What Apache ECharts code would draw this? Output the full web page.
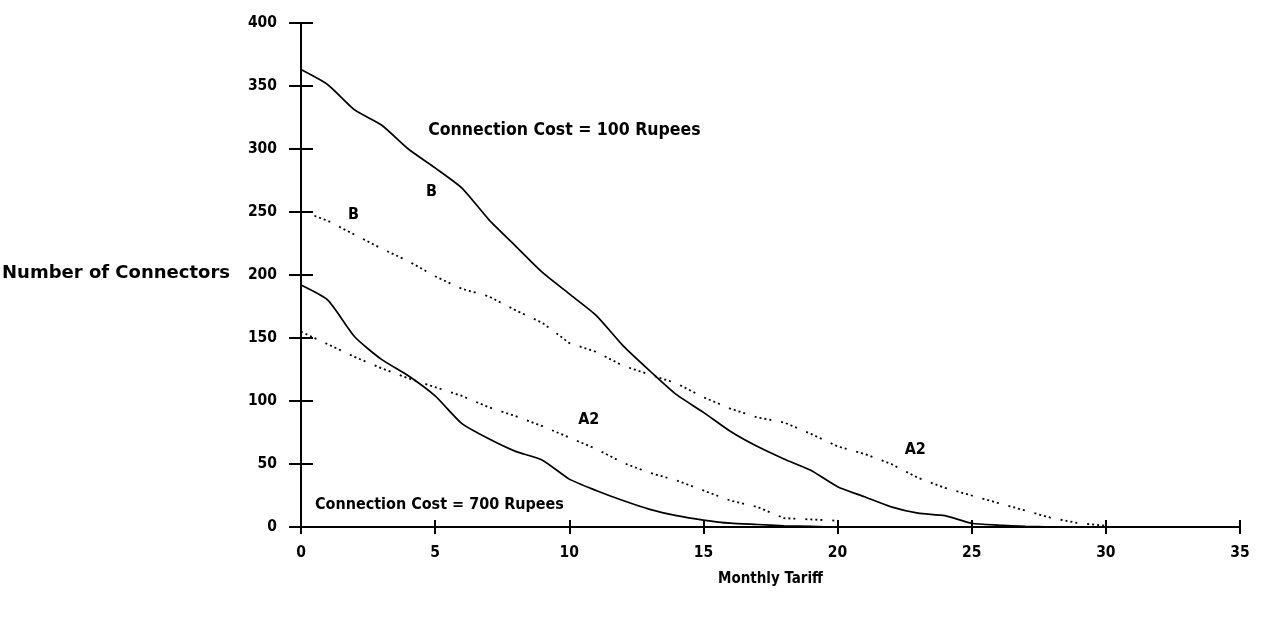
<!DOCTYPE html>
<html>
<head>
<meta charset="utf-8">
<script src="https://cdn.jsdelivr.net/npm/echarts@6/dist/echarts.min.js"></script>
<style>
  html, body { margin: 0; padding: 0; background: #fff; }
  #chart { width: 1267px; height: 623px; }
</style>
</head>
<body>
<div id="chart"></div>
<script>
// Monthly tariff (x) for the solid "B" curves
const tariffB = [0, 1, 2, 3, 4, 5, 6, 7, 8, 9, 10, 11, 12, 13, 14, 15, 16, 17, 18, 19, 20,
                 21, 22, 23, 24, 25, 26, 27, 28, 29, 30, 31, 32];
// Connectors, connection cost 100 rupees, curve B
const cost100B = [363, 351, 331, 319, 300, 285, 269, 244, 223, 202, 185, 168, 144, 124, 105, 91, 76, 64, 54, 45, 32,
                  24, 16, 11, 9, 3, 1.5, 0.5, 0, null, null, null, null];
// Connectors, connection cost 700 rupees, curve B
const cost700B = [192, 180, 151, 133, 120, 104, 82, 70, 60, 53, 38, 29, 21, 14, 9, 5.5, 3, 2, 1, 0.5, 0,
                  0, 0, 0, 0, 0, 0, 0, 0, 0, 0, 0, 0];

// Monthly tariff (x) and connectors for the dotted "A2" curves
const tariffA2_100 = [0.5, 1, 2, 3, 4, 5, 6, 7, 8, 9, 10, 11, 12, 13, 14, 15, 16, 17, 18, 19, 20,
                      21, 22, 23, 24, 25, 26, 27, 28, 29, 30];
const cost100A2 = [247, 243, 232, 221, 211, 199, 189, 183, 172, 162, 146, 139, 128, 121, 114, 103, 94, 87, 83, 74, 64,
                   58, 50, 39, 31, 25, 19, 13, 7, 3, 1];
const tariffA2_700 = [0, 1, 2, 3, 4, 5, 6, 7, 8, 9, 10, 11, 12, 13, 14, 15, 16, 17, 18, 19, 20];
const cost700A2 = [155, 145, 135, 126, 118, 111, 104, 95, 88, 80, 71, 62, 51, 43, 37, 29, 21, 16, 7, 6, 5];

// Axis ticks
const xTicks = [0, 5, 10, 15, 20, 25, 30, 35];
const yTicks = [0, 50, 100, 150, 200, 250, 300, 350, 400];

// Curve annotations: text, tariff, connectors, font size
const notes = [
  ['Connection Cost = 100 Rupees', 4.74, 315, 17.5],
  ['B', 4.66, 266, 16],
  ['B', 1.75, 248, 16],
  ['A2', 10.33, 85, 16],
  ['A2', 22.5, 61, 16],
  ['Connection Cost = 700 Rupees', 0.52, 17.5, 16]
];

const NARROW = '"DejaVu Sans Condensed", sans-serif';
const WIDE = '"DejaVu Sans", sans-serif';
const pairs = (xs, ys) => xs.map((x, i) => [x, ys[i]]);
const dotted = [2, 3, 2, 3, 2, 3, 2, 10];

const chart = echarts.init(document.getElementById('chart'), null, { renderer: 'canvas' });

const axisLine = { show: true, lineStyle: { color: '#000', width: 2 } };
const tickStyle = { color: '#000', width: 2 };
const tickFont = { color: '#000', fontFamily: NARROW, fontWeight: 'bold', fontSize: 15.5 };

chart.setOption({
  backgroundColor: '#fff',
  animation: false,
  grid: { left: 301, right: 27, top: 23, bottom: 96, containLabel: false },
  graphic: [
    {
      type: 'text', x: 230, y: 273, silent: true,
      style: {
        text: 'Number of Connectors', align: 'right', verticalAlign: 'middle',
        fill: '#000', font: 'bold 18px ' + WIDE
      }
    }
  ],
  xAxis: [
    {
      type: 'value', min: xTicks[0], max: xTicks[xTicks.length - 1], interval: 5,
      axisLine: axisLine,
      axisTick: { show: true, length: 7, lineStyle: tickStyle },
      axisLabel: Object.assign({ margin: 18 }, tickFont),
      splitLine: { show: false },
      name: 'Monthly Tariff', nameLocation: 'middle', nameGap: 45,
      nameTextStyle: { color: '#000', fontFamily: NARROW, fontWeight: 'bold', fontSize: 15 }
    },
    {
      type: 'value', min: xTicks[0], max: xTicks[xTicks.length - 1], interval: 5, position: 'bottom',
      axisLine: { show: false },
      axisTick: { show: true, inside: true, length: 7, lineStyle: tickStyle },
      axisLabel: { show: false }, splitLine: { show: false }
    }
  ],
  yAxis: [
    {
      type: 'value', min: yTicks[0], max: yTicks[yTicks.length - 1], interval: 50,
      axisLine: axisLine,
      axisTick: { show: true, length: 12, lineStyle: tickStyle },
      axisLabel: Object.assign({ margin: 24 }, tickFont),
      splitLine: { show: false }
    },
    {
      type: 'value', min: yTicks[0], max: yTicks[yTicks.length - 1], interval: 50, position: 'left',
      axisLine: { show: false },
      axisTick: { show: true, inside: true, length: 12, lineStyle: tickStyle },
      axisLabel: { show: false }, splitLine: { show: false }
    }
  ],
  series: [
    {
      name: 'B (100 Rupees)', type: 'line', data: pairs(tariffB, cost100B),
      symbol: 'none', smooth: 0.2, lineStyle: { color: '#000', width: 1.7 }
    },
    {
      name: 'B (700 Rupees)', type: 'line', data: pairs(tariffB, cost700B),
      symbol: 'none', smooth: 0.2, lineStyle: { color: '#000', width: 1.7 }
    },
    {
      name: 'A2 (100 Rupees)', type: 'line', data: pairs(tariffA2_100, cost100A2),
      symbol: 'none', lineStyle: { color: '#000', width: 1.8, type: dotted }
    },
    {
      name: 'A2 (700 Rupees)', type: 'line', data: pairs(tariffA2_700, cost700A2),
      symbol: 'none', lineStyle: { color: '#000', width: 1.8, type: dotted }
    },
    {
      name: 'notes', type: 'scatter', symbolSize: 0, silent: true,
      itemStyle: { color: '#000', opacity: 1 },
      data: notes.map(n => ({
        name: n[0], value: [n[1], n[2]],
        label: { fontSize: n[3] }
      })),
      label: {
        show: true, position: 'right', distance: 0,
        formatter: p => p.name,
        color: '#000', fontFamily: NARROW, fontWeight: 'bold', fontSize: 16
      }
    }
  ]
});
</script>
</body>
</html>
